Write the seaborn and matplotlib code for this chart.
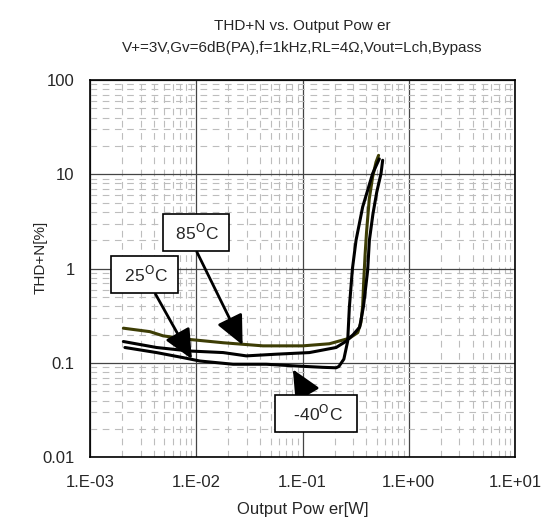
import numpy as np
import pandas as pd
import matplotlib
matplotlib.use("Agg")
import matplotlib.pyplot as plt
import seaborn as sns

sns.set_style("white")
plt.rcParams["font.family"] = ["Liberation Sans", "DejaVu Sans"]

# ----- data -----
p_85 = [0.00206, 0.00366, 0.00488, 0.00809, 0.0179, 0.0424, 0.1006, 0.179, 0.276,
        0.331, 0.355, 0.368, 0.377, 0.388, 0.400, 0.425, 0.457, 0.492, 0.520]
thd_85 = [0.234, 0.215, 0.194, 0.179, 0.164, 0.152, 0.152, 0.160, 0.183,
          0.21, 0.27, 0.40, 0.75, 1.4, 2.4, 5.5, 9.4, 13.5, 15.9]

p_25 = [0.00206, 0.00423, 0.00869, 0.0179, 0.0296, 0.0566, 0.116, 0.207, 0.257,
        0.30, 0.345, 0.375, 0.410, 0.426, 0.46, 0.50, 0.548, 0.568]
thd_25 = [0.169, 0.146, 0.134, 0.129, 0.119, 0.124, 0.129, 0.146, 0.170,
          0.20, 0.24, 0.40, 0.95, 2.0, 3.8, 6.5, 10.2, 14.1]

p_m40 = [0.00213, 0.00423, 0.00752, 0.0108, 0.0222, 0.0456, 0.0873, 0.155, 0.207,
         0.220, 0.245, 0.266, 0.276, 0.295, 0.319, 0.368, 0.457, 0.528]
thd_m40 = [0.146, 0.129, 0.114, 0.105, 0.097, 0.097, 0.093, 0.090, 0.089,
           0.092, 0.11, 0.17, 0.39, 1.0, 2.0, 4.5, 10.2, 14.6]

x_ticks = [1e-3, 1e-2, 1e-1, 1e0, 1e1]
x_ticklabels = ["1.E-03", "1.E-02", "1.E-01", "1.E+00", "1.E+01"]
y_ticks = [0.01, 0.1, 1, 10, 100]
y_ticklabels = ["0.01", "0.1", "1", "10", "100"]

# label text, box centre, arrow tip
labels = [" 85$^{\\mathrm{O}}$C ", " 25$^{\\mathrm{O}}$C ", "  -40$^{\\mathrm{O}}$C  "]
label_xy = [(0.00989, 2.41), (0.00325, 0.863), (0.1334, 0.029)]
tip_xy = [(0.0273, 0.155), (0.00908, 0.110), (0.0811, 0.0857)]
rel_pos = [(0.43, 0.0), (0.62, 0.0), (0.45, 1.0)]

series = [
    (p_85, thd_85, "#3d3d05"),
    (p_25, thd_25, "black"),
    (p_m40, thd_m40, "black"),
]

fig = plt.figure(figsize=(5.42, 5.21), dpi=100)
ax = fig.add_axes([0.1661, 0.1222, 0.7841, 0.7242])

for px, py, col in series:
    d = pd.DataFrame({"p": px, "thd": py})
    sns.lineplot(data=d, x="p", y="thd", sort=False, estimator=None,
                 color=col, lw=2.2, ax=ax)

ax.set_xscale("log")
ax.set_yscale("log")
ax.set_xlim(1e-3, 1e1)
ax.set_ylim(0.01, 100)

ax.set_xticks(x_ticks)
ax.set_xticklabels(x_ticklabels, fontsize=12)
ax.set_yticks(y_ticks)
ax.set_yticklabels(y_ticklabels, fontsize=12)
ax.tick_params(which="both", length=0)
ax.tick_params(axis="x", pad=13)
ax.tick_params(axis="y", pad=11)

ax.grid(True, which="major", color="#444444", lw=0.9, ls="-")
ax.grid(True, which="minor", color="#bdbdbd", lw=0.8, ls=(0, (6, 5)))
ax.set_axisbelow(True)
for s in ax.spines.values():
    s.set_color("black")
    s.set_linewidth(1.2)

for txt, cxy, txy, rp in zip(labels, label_xy, tip_xy, rel_pos):
    ax.annotate(txt, xy=txy, xytext=cxy, ha="center", va="center", fontsize=12.5,
                bbox=dict(boxstyle="square,pad=0.5", fc="white", ec="black", lw=1.2),
                arrowprops=dict(arrowstyle="-|>,head_length=0.9,head_width=0.42",
                                color="black", lw=2, mutation_scale=20,
                                relpos=rp, shrinkA=0, shrinkB=0),
                zorder=5)

ax.set_title("THD+N vs. Output Pow er\nV+=3V,Gv=6dB(PA),f=1kHz,RL=4\u03a9,Vout=Lch,Bypass",
             fontsize=11, linespacing=1.75, pad=20)
ax.set_xlabel("Output Pow er[W]", fontsize=12, labelpad=8)
ax.set_ylabel("THD+N[%]", fontsize=11)
ax.yaxis.set_label_coords(-0.10, 0.53)

fig.savefig("out.png", dpi=100)
